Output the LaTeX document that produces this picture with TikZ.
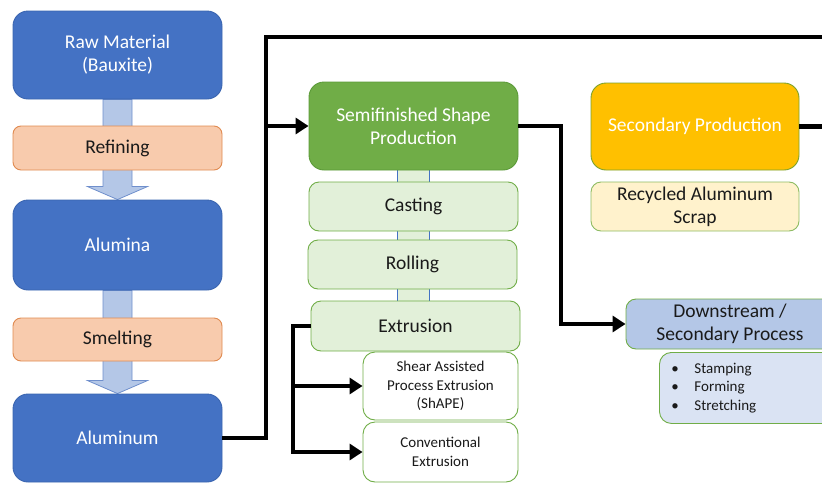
\documentclass[tikz,border=0pt]{standalone}
\usepackage{fontspec}
\setmainfont{Carlito}
\usetikzlibrary{arrows.meta,backgrounds}

\definecolor{bluefill}{HTML}{4472C4}
\definecolor{blueedge}{HTML}{3A65B0}
\definecolor{orangefill}{HTML}{F8CBAD}
\definecolor{orangeedge}{HTML}{E08A50}
\definecolor{greenfill}{HTML}{70AD47}
\definecolor{greenedge}{HTML}{5B9A38}
\definecolor{palegreen}{HTML}{E2F0D9}
\definecolor{goldfill}{HTML}{FFC000}
\definecolor{creamfill}{HTML}{FFF2CC}
\definecolor{skyfill}{HTML}{B4C7E7}
\definecolor{mistfill}{HTML}{DAE3F3}
\definecolor{arrowedge}{HTML}{6F8FCC}
\definecolor{inktext}{HTML}{1A1A1A}

\tikzset{
  basebox/.style={rectangle, inner sep=2pt, align=center, line width=0.9pt,
    font=\fontsize{19.5}{23}\selectfont},
  bigblue/.style={basebox, fill=bluefill, draw=blueedge, text=white, rounded corners=15pt,
    minimum width=209pt},
  stagebox/.style={basebox, fill=orangefill, draw=orangeedge, text=inktext, rounded corners=8pt,
    minimum width=209pt},
  semibox/.style={basebox, fill=greenfill, draw=greenedge, text=white, rounded corners=15pt,
    minimum width=209pt},
  methodbox/.style={basebox, fill=palegreen, draw=greenfill, text=inktext, rounded corners=10pt,
    minimum width=209pt},
  subbox/.style={basebox, fill=white, draw=greenfill, text=inktext, rounded corners=12pt,
    minimum width=155pt, font=\fontsize{15}{18.5}\selectfont},
  goldbox/.style={basebox, fill=goldfill, draw=greenedge!80!goldfill, text=white, rounded corners=15pt,
    minimum width=208pt},
  creambox/.style={basebox, fill=creamfill, draw=greenfill!80!creamfill, text=inktext, rounded corners=10pt,
    minimum width=208pt},
  skybox/.style={basebox, fill=skyfill, draw=greenfill, text=inktext, rounded corners=10pt,
    minimum width=208pt},
  listbox/.style={basebox, fill=mistfill, draw=greenfill, text=inktext, rounded corners=12pt,
    minimum width=176pt, minimum height=71pt, text width=152pt, inner xsep=12pt, align=left,
    font=\fontsize{15}{18.5}\selectfont},
  flowline/.style={line width=4.5pt, black, line join=miter},
  flowarrow/.style={flowline, -{Triangle[length=13pt,width=16pt]}},
  stagearrow/.style={fill=skyfill, draw=arrowedge, line width=0.8pt, line join=miter},
}

\newcommand{\stagearrowpath}[2]{%
  % broad down arrow from node #1 to node #2
  \path let \p1=(#1.south), \p2=(#2.north) in
    [stagearrow] (\x1-14.5pt,\y1) -- (\x1-14.5pt,\y2+13pt) -- (\x1-30pt,\y2+13pt)
    -- (\x1,\y2) -- (\x1+30pt,\y2+13pt) -- (\x1+14.5pt,\y2+13pt) -- (\x1+14.5pt,\y1) -- cycle;}

\usetikzlibrary{calc}

\begin{document}
\begin{tikzpicture}[x=1pt,y=-1pt]
\clip (0,0) rectangle (822,485);
\useasboundingbox (0,0) rectangle (822,485);

% primary production column
\node[bigblue, minimum height=88pt] (raw) at (117.5,55) {Raw Material\\(Bauxite)};
\node[stagebox, minimum height=44pt] (refining) at (117.5,148) {Refining};
\node[bigblue, minimum height=90pt] (alumina) at (117.5,245) {Alumina};
\node[stagebox, minimum height=43pt] (smelting) at (117.5,339.5) {Smelting};
\node[bigblue, minimum height=88pt] (aluminum) at (117.5,438) {Aluminum};

% semifinished shape production column
\node[semibox, minimum height=88pt] (semi) at (413.5,126) {Semifinished Shape\\Production};
\node[methodbox, minimum height=49pt] (casting) at (413.5,206.5) {Casting};
\node[methodbox, minimum height=49pt] (rolling) at (412.5,264.5) {Rolling};
\node[methodbox, minimum height=50pt] (extrusion) at (415.5,326) {Extrusion};
\node[subbox, minimum height=68pt] (shape) at (440.5,386) {Shear Assisted\\Process Extrusion\\(ShAPE)};
\node[subbox, minimum height=60pt] (conv) at (440.5,452) {Conventional\\Extrusion};

% secondary production and downstream processing
\node[goldbox, minimum height=87pt] (secondary) at (695,126.5) {Secondary Production};
\node[creambox, minimum height=49pt] (scrap) at (695,206.5) {Recycled Aluminum\\Scrap};
\node[skybox, minimum height=50pt] (down) at (730,324) {Downstream /\\Secondary Process};
\node[listbox, anchor=north west] (ops) at (659,352)
  {\makebox[23pt][l]{\textbullet}Stamping\\
   \makebox[23pt][l]{\textbullet}Forming\\
   \makebox[23pt][l]{\textbullet}Stretching};

% broad arrows and the link strip behind the boxes
\begin{scope}[on background layer]
  \stagearrowpath{raw}{alumina}
  \stagearrowpath{alumina}{aluminum}
  \path let \p1=(semi.south), \p2=(extrusion.north) in
    [fill=palegreen] (397,\y1) rectangle (429,\y2);
  \path let \p1=(semi.south), \p2=(extrusion.north) in
    [draw=bluefill, line width=0.8pt] (397,\y1) -- (397,\y2) (429,\y1) -- (429,\y2);
\end{scope}

% flow connectors
\coordinate (bend) at (266,37);
\coordinate (topright) at (830,37);
\coordinate (rbend) at (561,0);
\coordinate (bk) at (293,0);

\draw[flowline] (aluminum.east) -| (bend) -- (topright);
\draw[flowarrow] (bend |- semi.west) -- (semi.west);
\draw[flowarrow] (semi.east) -| (rbend |- down.west) -- (down.west);
\draw[flowline] (secondary.east) -- (secondary.east -| topright);
\draw[flowarrow] (extrusion.west) -| (bk |- conv.west) -- (conv.west);
\draw[flowarrow] (bk |- shape.west) -- (shape.west);
\end{tikzpicture}
\end{document}
